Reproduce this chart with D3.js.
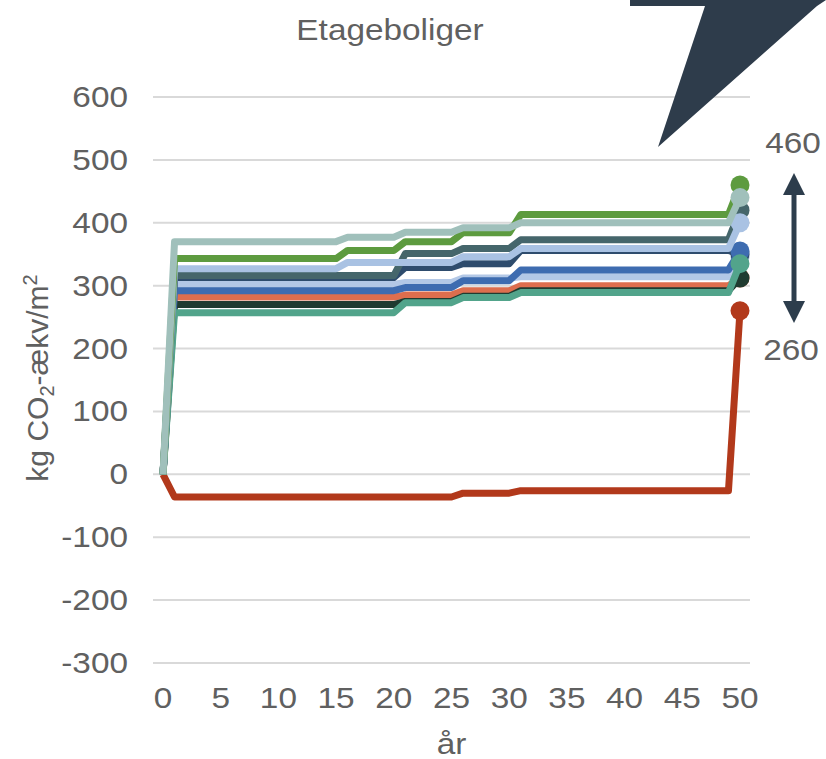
<!DOCTYPE html>
<html>
<head>
<meta charset="utf-8">
<script src="https://cdn.jsdelivr.net/npm/d3@7"></script>
<style>
  html, body { margin: 0; padding: 0; background: #fff; }
  svg { display: block; font-family: "Liberation Sans", Arial, sans-serif; }
</style>
</head>
<body>
<svg id="chart" width="826" height="759"></svg>
<script>
// Etageboliger — cumulative kg CO2-eq per m2 over 50 years

const chartTitle = 'Etageboliger';
const xTickValues = [0, 5, 10, 15, 20, 25, 30, 35, 40, 45, 50];
const yTickValues = [-300, -200, -100, 0, 100, 200, 300, 400, 500, 600];

// years where the curves change level (flat in between)
const stepYears = [0, 1, 15, 16, 20, 21, 25, 26, 30, 31, 49, 50];

// one array per building, values read at stepYears (drawing order = Excel series order)
const darkRedValues   = [0, -36, -36, -36, -36, -36, -36, -30, -30, -26, -26, 260];
const orangeValues    = [0, 282, 282, 282, 282, 285, 285, 292, 292, 300, 300, 312];
const blackValues     = [0, 270, 270, 270, 270, 275, 275, 283, 283, 292, 292, 312];
const periwinkleValues= [0, 302, 302, 302, 302, 305, 305, 312, 312, 314, 314, 345];
const navyValues      = [0, 313, 313, 313, 313, 329, 329, 335, 335, 356, 356, 350];
const blueValues      = [0, 292, 292, 292, 292, 297, 297, 308, 308, 325, 325, 355];
const tealValues      = [0, 257, 257, 257, 257, 273, 273, 281, 281, 289, 289, 335];
const slateValues     = [0, 316, 316, 316, 316, 351, 351, 359, 359, 373, 373, 420];
const lightBlueValues = [0, 327, 327, 337, 337, 337, 337, 346, 346, 359, 359, 400];
const greenValues     = [0, 343, 343, 356, 356, 370, 370, 384, 384, 413, 413, 460];
const grayGreenValues = [0, 370, 370, 377, 377, 385, 385, 392, 392, 400, 400, 440];

const seriesColors = ['#b2391b', '#dd6e4e', '#1f3b30', '#b3c8e6', '#2e4c6d', '#3e6cb0',
                      '#52a48b', '#45666b', '#a9c2e3', '#5d9b3f', '#a0c0bb'];

const arrowTopLabel = '460';
const arrowBottomLabel = '260';

(function () {
    const svg = d3.select('#chart');
    const TEXT_COLOR = '#606060';
    const GRID_COLOR = '#d9d9d9';
    const FONT_SIZE = 29;
    const STRETCH = 1.15;

    const x = d3.scaleLinear().domain([0, 50]).range([163, 740]);
    const y = d3.scaleLinear().domain([-300, 600]).range([663, 97]);

    // horizontal text is slightly wide in the source picture
    function label(g, tx, ty, txt, anchor) {
        return g.append('text')
            .attr('transform', `translate(${tx},${ty}) scale(${STRETCH},1)`)
            .attr('text-anchor', anchor || 'middle')
            .attr('font-size', FONT_SIZE)
            .attr('fill', TEXT_COLOR)
            .text(txt);
    }

    // gridlines
    svg.append('g')
        .selectAll('line')
        .data(yTickValues)
        .join('line')
        .attr('x1', 153).attr('x2', 750)
        .attr('y1', d => y(d)).attr('y2', d => y(d))
        .attr('stroke', GRID_COLOR)
        .attr('stroke-width', 2);

    // y tick labels
    const yLab = svg.append('g');
    yTickValues.forEach(v => label(yLab, 128, y(v) + 10, v, 'end'));

    // x tick labels
    const xLab = svg.append('g');
    xTickValues.forEach(v => label(xLab, x(v), 708, v, 'middle'));

    label(svg, x(25), 754, 'år', 'middle');
    label(svg, 390, 40, chartTitle, 'middle');

    // y axis title with sub/superscript
    const yTitle = svg.append('text')
        .attr('transform', 'translate(48,378) rotate(-90)')
        .attr('text-anchor', 'middle')
        .attr('font-size', 30)
        .attr('fill', TEXT_COLOR);
    yTitle.append('tspan').text('kg CO');
    yTitle.append('tspan').attr('font-size', 20).attr('dy', 6).text('2');
    yTitle.append('tspan').attr('dy', -6).text('-ækv/m');
    yTitle.append('tspan').attr('font-size', 20).attr('dy', -11).text('2');

    // lines
    const allValues = [darkRedValues, orangeValues, blackValues, periwinkleValues, navyValues,
                       blueValues, tealValues, slateValues, lightBlueValues, greenValues, grayGreenValues];

    const line = d3.line()
        .x((d, i) => x(stepYears[i]))
        .y(d => y(d));

    const lines = svg.append('g');
    allValues.forEach((vals, k) => {
        const g = lines.append('g');
        g.append('path')
            .attr('d', line(vals))
            .attr('fill', 'none')
            .attr('stroke', seriesColors[k])
            .attr('stroke-width', 7)
            .attr('stroke-linejoin', 'round');
        // marker on the last point only
        g.append('circle')
            .attr('cx', x(stepYears[stepYears.length - 1]))
            .attr('cy', y(vals[vals.length - 1]))
            .attr('r', 9.5)
            .attr('fill', seriesColors[k]);
    });

    // double arrow showing the spread
    const ARROW = '#2d3d4c';
    const ax = 794;
    const yTop = 173, yBot = 323, head = 22;
    svg.append('line')
        .attr('x1', ax).attr('x2', ax)
        .attr('y1', yTop + head - 2).attr('y2', yBot - head + 2)
        .attr('stroke', ARROW).attr('stroke-width', 5);
    svg.append('path')
        .attr('d', `M${ax},${yTop} L${ax + head / 2},${yTop + head} L${ax - head / 2},${yTop + head} Z`)
        .attr('fill', ARROW);
    svg.append('path')
        .attr('d', `M${ax},${yBot} L${ax + head / 2},${yBot - head} L${ax - head / 2},${yBot - head} Z`)
        .attr('fill', ARROW);

    label(svg, 793, 153, arrowTopLabel, 'middle');
    label(svg, 791, 360, arrowBottomLabel, 'middle');

    // dark callout pointer at the top right
    svg.append('path')
        .attr('d', 'M630,0 L826,0 L817,6 L658,147 L705,6 L630,6 Z')
        .attr('fill', '#2e3c4b');
})();
</script>
</body>
</html>
